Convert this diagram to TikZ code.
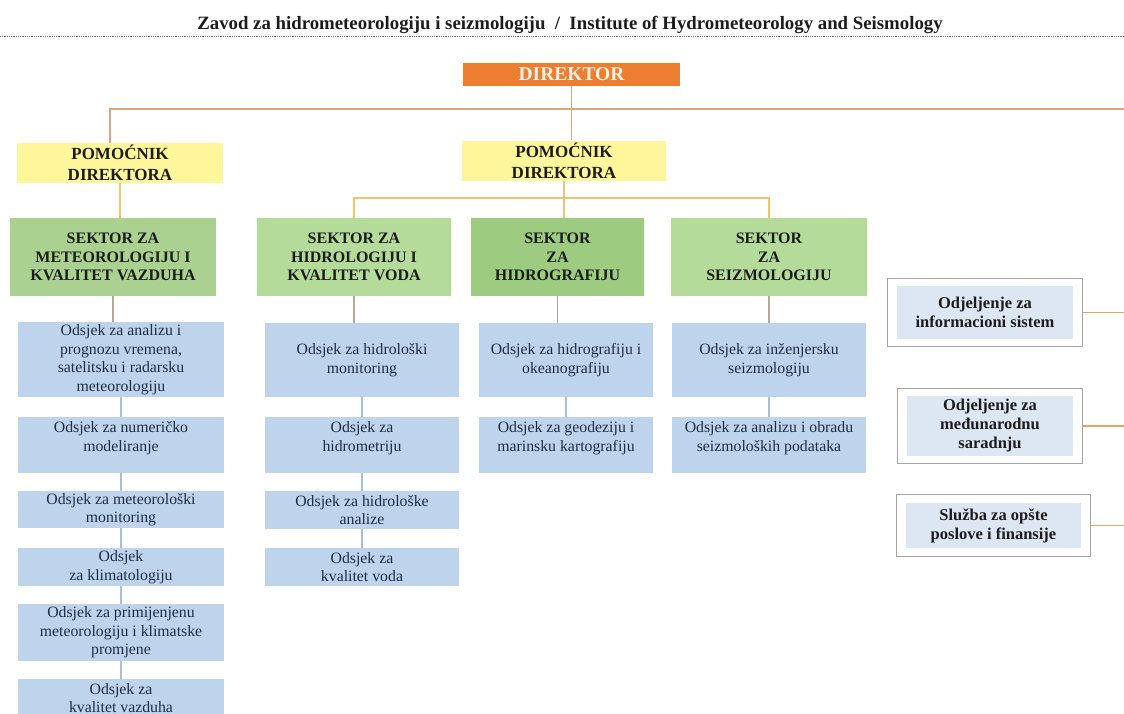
\documentclass[tikz,border=0pt]{standalone}
\usepackage{fontspec}
\setmainfont{Liberation Serif}
\usetikzlibrary{fit}
\definecolor{dirorange}{HTML}{ED7D31}
\definecolor{dircream}{HTML}{FFF3E3}
\definecolor{pomyellow}{HTML}{FFF69C}
\definecolor{sekgreen}{HTML}{AAD18F}
\definecolor{sekgreenlight}{HTML}{B5DB9B}
\definecolor{sekgreendark}{HTML}{9DCC80}
\definecolor{odsblue}{HTML}{BDD4EC}
\definecolor{odjblue}{HTML}{DCE7F3}
\definecolor{headtext}{HTML}{1C1C1C}
\definecolor{odstext}{HTML}{1F2C48}
\definecolor{framegray}{HTML}{A6A6A6}
\definecolor{dirlinecol}{HTML}{D9A77E}
\definecolor{pomlinecol}{HTML}{F0C46C}
\definecolor{seklinecol}{HTML}{B3A89A}
\definecolor{odslinecol}{HTML}{A7BFD8}
\definecolor{odjlinecol}{HTML}{E3A36B}
\tikzset{
    %Define style for the director box
    direktor/.style={
           rectangle,
           fill=dirorange,
           text=dircream,
           minimum width=217pt,
           minimum height=23pt,
           inner sep=0pt,
           font=\fontsize{19.5}{20}\selectfont\bfseries},
    %Define style for assistant boxes
    pomocnik/.style={
           rectangle,
           fill=pomyellow,
           text=headtext,
           minimum height=40pt,
           inner sep=0pt,
           align=center,
           font=\fontsize{17}{21}\selectfont\bfseries},
    %Define style for sector boxes
    sektor/.style={
           rectangle,
           fill=sekgreen,
           text=headtext,
           minimum height=78pt,
           inner sep=0pt,
           align=center,
           font=\fontsize{16}{18.5}\selectfont\bfseries},
    %Define style for section boxes
    odsjek/.style={
           rectangle,
           fill=odsblue,
           text=odstext,
           inner sep=0pt,
           align=center,
           font=\fontsize{15.8}{18.5}\selectfont},
    gore/.style={text depth=17pt},
    kol1/.style={minimum width=206pt},
    kol2/.style={minimum width=194pt},
    kol3/.style={minimum width=174pt},
    kol4/.style={minimum width=194pt},
    %Define style for department boxes
    odjel/.style={
           rectangle,
           fill=odjblue,
           text=headtext,
           inner sep=0pt,
           align=center,
           font=\fontsize{16.5}{19}\selectfont\bfseries},
    okvir/.style={
           rectangle,
           draw=framegray,
           line width=1pt,
           inner xsep=9pt,
           inner ysep=7pt},
    % Define line styles
    dirline/.style={draw=dirlinecol, line width=1.8pt},
    pomline/.style={draw=pomlinecol, line width=1.5pt},
    sekline/.style={draw=seklinecol, line width=1.3pt},
    odsline/.style={draw=odslinecol, line width=1.3pt},
    odjline/.style={draw=odjlinecol, line width=1.3pt},
    rule/.style={draw=black!55, line width=1pt, dash pattern=on 1pt off 0.8pt}
}
\begin{document}
\begin{tikzpicture}[x=1pt,y=1pt]
\useasboundingbox (0,0) rectangle (1124,-713);
% title
\node[font=\fontsize{18.8}{20}\selectfont\bfseries, text=headtext] (naslov) at (570,-25)
  {Zavod za hidrometeorologiju i seizmologiju \ / \ Institute of Hydrometeorology and Seismology};
\coordinate (ruleL) at (0,-36);
\coordinate (ruleR) at (1124,-36);
\draw[rule] (ruleL) -- (ruleR);
% top levels
\node[direktor] (dir) at (571.5,-74.5) {DIREKTOR};
\node[pomocnik, minimum width=206pt] (pom1) at (120,-163) {POMOĆNIK\\DIREKTORA};
\node[pomocnik, minimum width=204pt] (pom2) at (564,-160.5) {POMOĆNIK\\DIREKTORA};
\node[sektor, minimum width=206pt] (s1) at (113,-257) {SEKTOR ZA\\METEOROLOGIJU I\\KVALITET VAZDUHA};
\node[sektor, minimum width=194pt, fill=sekgreenlight] (s2) at (354,-257) {SEKTOR ZA\\HIDROLOGIJU I\\KVALITET VODA};
\node[sektor, minimum width=173pt, fill=sekgreendark] (s3) at (557.5,-257) {SEKTOR\\ZA\\HIDROGRAFIJU};
\node[sektor, minimum width=196pt, fill=sekgreenlight] (s4) at (769,-257) {SEKTOR\\ZA\\SEIZMOLOGIJU};
% sections, column 1
\node[odsjek, kol1, minimum height=75pt] (m1) at (121,-359.5) {Odsjek za analizu i\\prognozu vremena,\\satelitsku i radarsku\\meteorologiju};
\node[odsjek, kol1, minimum height=56pt, gore] (m2) at (121,-445) {Odsjek za numeričko\\modeliranje};
\node[odsjek, kol1, minimum height=37pt] (m3) at (121,-509.5) {Odsjek za meteorološki\\monitoring};
\node[odsjek, kol1, minimum height=38pt] (m4) at (121,-567) {Odsjek\\za klimatologiju};
\node[odsjek, kol1, minimum height=57pt] (m5) at (121,-632.5) {Odsjek za primijenjenu\\meteorologiju i klimatske\\promjene};
\node[odsjek, kol1, minimum height=38pt] (m6) at (121,-698) {Odsjek za\\kvalitet vazduha};
% column 2
\node[odsjek, kol2, minimum height=74pt] (h1) at (362,-360) {Odsjek za hidrološki\\monitoring};
\node[odsjek, kol2, minimum height=56pt, gore] (h2) at (362,-445) {Odsjek za\\hidrometriju};
\node[odsjek, kol2, minimum height=38pt] (h3) at (362,-510) {Odsjek za hidrološke\\analize};
\node[odsjek, kol2, minimum height=38pt] (h4) at (362,-567) {Odsjek za\\kvalitet voda};
% column 3
\node[odsjek, kol3, minimum height=74pt] (g1) at (566,-360) {Odsjek za hidrografiju i\\okeanografiju};
\node[odsjek, kol3, minimum height=56pt, gore] (g2) at (566,-445) {Odsjek za geodeziju i\\marinsku kartografiju};
% column 4
\node[odsjek, kol4, minimum height=74pt] (z1) at (769,-360) {Odsjek za inženjersku\\seizmologiju};
\node[odsjek, kol4, minimum height=56pt, gore] (z2) at (769,-445) {Odsjek za analizu i obradu\\seizmoloških podataka};
% departments on the right
\node[odjel, minimum width=176pt, minimum height=53pt] (inf) at (985,-312.5) {Odjeljenje za\\informacioni sistem};
\node[odjel, minimum width=166pt, minimum height=60pt] (med) at (990,-426) {Odjeljenje za\\međunarodnu\\saradnju};
\node[odjel, minimum width=175pt, minimum height=45pt] (sl) at (993.5,-525.5) {Služba za opšte\\poslove i finansije};
\node[okvir, fit=(inf)] (oinf) {};
\node[okvir, fit=(med)] (omed) {};
\node[okvir, fit=(sl), inner ysep=8pt] (osl) {};
% connectors
\coordinate (topL) at (110,-109);
\coordinate (topR) at (1124,-109);
\coordinate (mid) at (564,-198);
\draw[dirline] (dir.south) -- (dir.south |- pom2.north);
\draw[dirline] (topR) -- (topL) -- (topL |- pom1.north);
\draw[pomline] (pom1) -- (pom1 |- s1.north);
\draw[pomline] (pom2) -- (s3.north -| pom2);
\draw[pomline] (s2) |- (mid) -| (s4);
\draw[sekline] (s1.south) -- (s1.south |- m1.north);
\draw[sekline] (s2) -- (s2 |- h1.north);
\draw[sekline] (s3) -- (s3 |- g1.north);
\draw[sekline] (s4) -- (z1);
\path[odsline]
    (m1) edge (m2) (m2) edge (m3) (m3) edge (m4) (m4) edge (m5) (m5) edge (m6)
    (h1) edge (h2) (h2) edge (h3) (h3) edge (h4)
    (g1) edge (g2)
    (z1) edge (z2);
\draw[odjline] (oinf.east) -- (oinf.east -| topR);
\draw[odjline] (omed.east) -- (omed.east -| topR);
\draw[odjline] (osl.east) -- (osl.east -| topR);
\end{tikzpicture}
\end{document}
